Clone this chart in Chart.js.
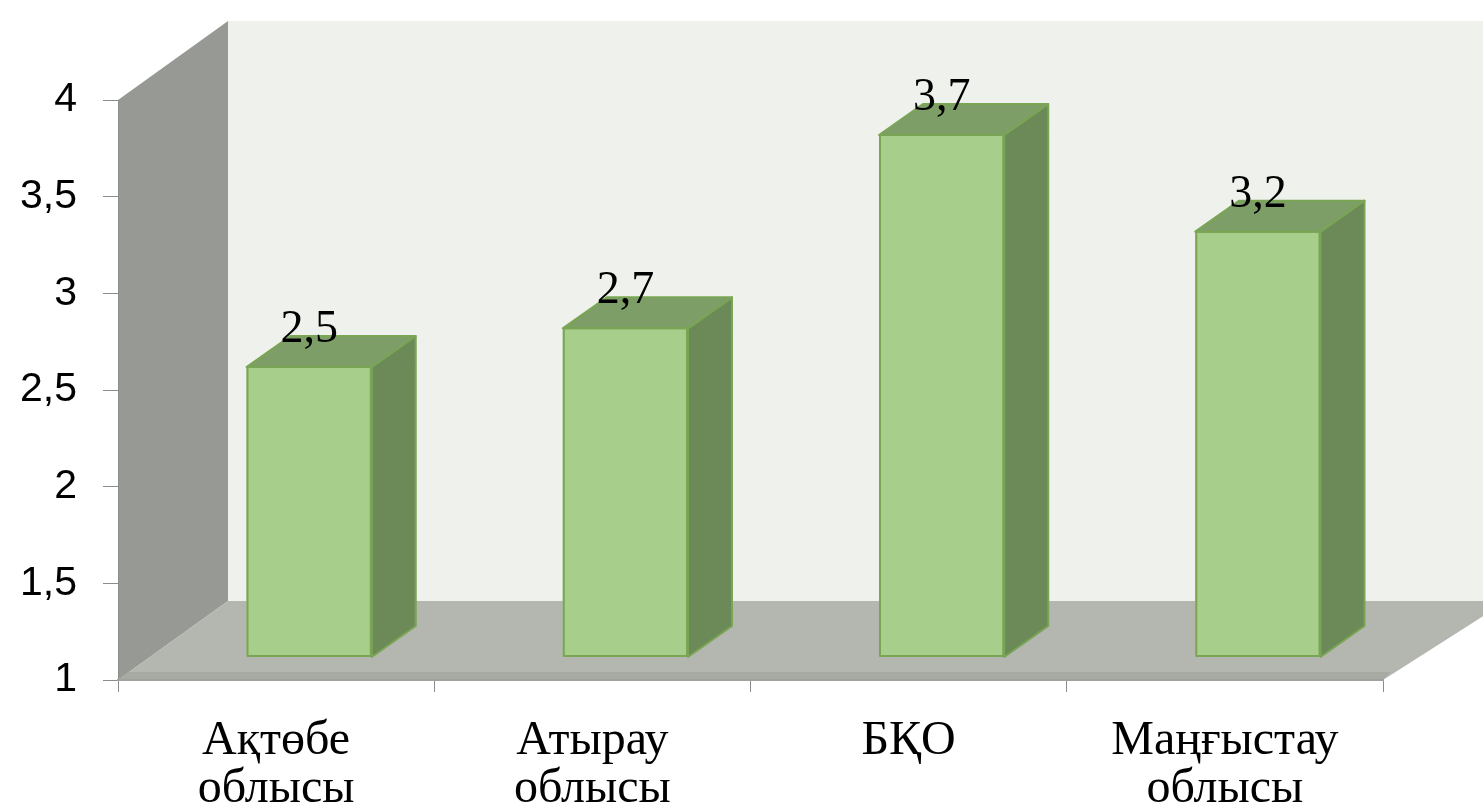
<!DOCTYPE html>
<html><head><meta charset="utf-8">
<script src="https://cdn.jsdelivr.net/npm/chart.js@4"></script>
<style>html,body{margin:0;padding:0;background:#fff;} #wrap{width:1483px;height:807px;}</style>
</head><body><div id="wrap"><canvas id="c" width="1483" height="807"></canvas></div>
<script>
const categories = [['Ақтөбе','облысы'],['Атырау','облысы'],['БҚО'],['Маңғыстау','облысы']];
const values = [2.5, 2.7, 3.7, 3.2];
const valueLabels = ['2,5', '2,7', '3,7', '3,2'];
const yTicks = [1, 1.5, 2, 2.5, 3, 3.5, 4];

const DEPTH = {x:110, y:-79};     // full floor depth
const OFF = {x:33, y:-23};        // bar front plane offset
const BD = {x:44, y:-31};         // bar depth

function poly(ctx, pts){
  ctx.beginPath();
  ctx.moveTo(pts[0][0], pts[0][1]);
  for (let i=1;i<pts.length;i++) ctx.lineTo(pts[i][0], pts[i][1]);
  ctx.closePath();
}

const walls = {
  id:'walls',
  beforeDraw(chart){
    const {ctx, chartArea:a} = chart;
    ctx.save();
    // back wall
    ctx.fillStyle = '#eff2ec';
    ctx.fillRect(a.left+DEPTH.x, a.top+DEPTH.y, chart.width, a.bottom-a.top);
    // left wall
    ctx.fillStyle = '#979a94';
    poly(ctx, [[a.left,a.top],[a.left+DEPTH.x,a.top+DEPTH.y],[a.left+DEPTH.x,a.bottom+DEPTH.y],[a.left,a.bottom]]);
    ctx.fill();
    // floor
    ctx.fillStyle = '#b4b6b0';
    poly(ctx, [[a.left,a.bottom],[a.left+DEPTH.x,a.bottom+DEPTH.y],[a.right+DEPTH.x+14,a.bottom+DEPTH.y],[a.right,a.bottom]]);
    ctx.fill();
    // floor front band
    ctx.fillStyle = '#a7a9a3';
    poly(ctx, [[a.left+10,a.bottom-8],[a.right+8,a.bottom-8],[a.right,a.bottom],[a.left,a.bottom]]);
    ctx.fill();
    ctx.restore();
  }
};

const bars3d = {
  id:'bars3d',
  beforeDatasetsDraw(chart){
    chart.ctx.save();
    chart.ctx.translate(OFF.x, OFF.y);
  },
  afterDatasetsDraw(chart){
    const ctx = chart.ctx;
    const meta = chart.getDatasetMeta(0);
    const bottom = chart.chartArea.bottom;
    ctx.lineWidth = 2;
    ctx.strokeStyle = '#79a555';
    ctx.lineJoin = 'round';
    const tops = [];
    meta.data.forEach((bar)=>{
      const p = bar.getProps(['x','y','base','width'], true);
      const x = p.x, y = p.y, width = p.width;
      const base = Math.min(p.base, bottom);
      const l = x-width/2, r = x+width/2;
      ctx.fillStyle = '#6b8a57';
      poly(ctx, [[r,y],[r+BD.x,y+BD.y],[r+BD.x,base+BD.y],[r,base]]);
      ctx.fill(); ctx.stroke();
      ctx.fillStyle = '#7e9e68';
      poly(ctx, [[l,y],[r,y],[r+BD.x,y+BD.y],[l+BD.x,y+BD.y]]);
      ctx.fill(); ctx.stroke();
      // front face outline
      ctx.strokeRect(l+1, y, width-2, base-y-1);
      tops.push([x,y]);
    });
    ctx.restore();
    ctx.save();
    ctx.fillStyle = '#000';
    ctx.font = '46px "Liberation Serif"';
    ctx.textAlign = 'center';
    ctx.textBaseline = 'alphabetic';
    tops.forEach((t,i)=>{
      ctx.fillText(valueLabels[i], t[0]+OFF.x, t[1]+OFF.y-25);
    });
    ctx.restore();
  }
};

new Chart(document.getElementById('c'), {
  type:'bar',
  data:{
    labels: categories,
    datasets:[{
      data: values,
      backgroundColor:'#a8ce8b',
      borderColor:'#79a555',
      borderWidth:0,
      categoryPercentage:1,
      barPercentage:0.396
    }]
  },
  options:{
    responsive:false,
    devicePixelRatio:1,
    animation:false,
    layout:{padding:{top:100,right:100,left:0,bottom:0}},
    plugins:{legend:{display:false}, tooltip:{enabled:false}},
    scales:{
      y:{
        min:1, max:4,
        afterBuildTicks(scale){ scale.ticks = yTicks.map(v=>({value:v})); },
        afterFit(scale){ scale.width = 118; },
        grid:{drawOnChartArea:false, drawTicks:true, tickLength:15, color:'#8c8c8c'},
        border:{display:true, color:'#8a8c87', width:1},
        ticks:{
          padding:26,
          color:'#000',
          font:{family:'"Liberation Sans"', size:41},
          callback:(v)=>String(v).replace('.', ',')
        }
      },
      x:{
        afterFit(scale){ scale.height = 127; },
        grid:{drawOnChartArea:false, drawTicks:true, tickLength:12, color:'#8c8c8c', offset:true},
        border:{display:true, color:'#a0a29c', width:2},
        ticks:{
          padding:25,
          color:'#000',
          autoSkip:false, maxRotation:0, minRotation:0,
          font:{family:'"Liberation Serif"', size:48, lineHeight:1.0}
        }
      }
    }
  },
  plugins:[walls, bars3d]
});
</script>
</body></html>
